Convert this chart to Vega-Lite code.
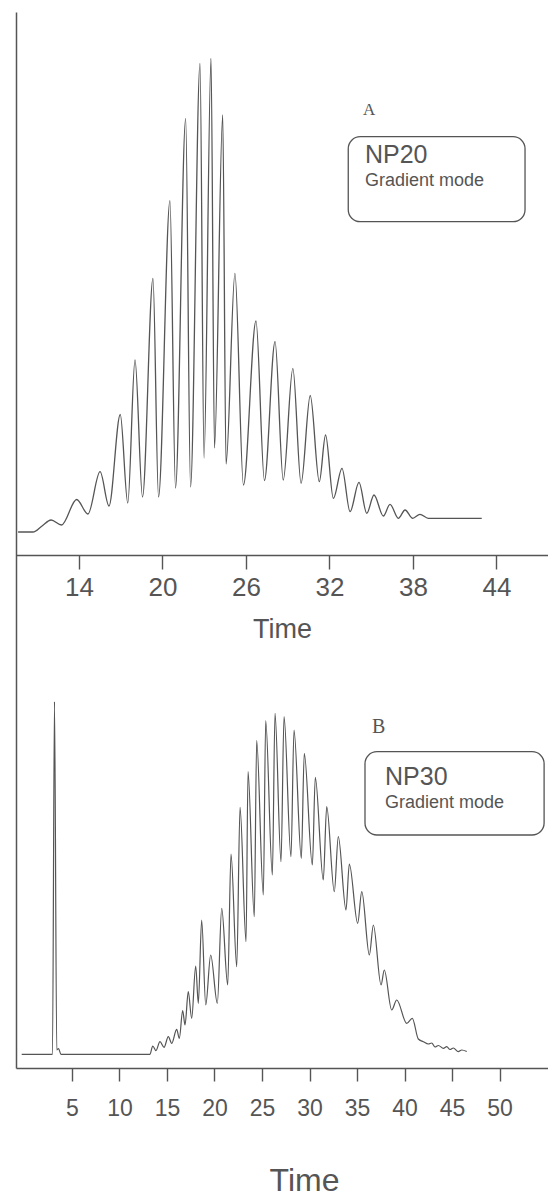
{
  "$schema": "https://vega.github.io/schema/vega-lite/v6.json",
  "width": 532,
  "height": 1056,
  "autosize": {"type": "none"},
  "padding": {"left": 16, "top": 12, "right": 0, "bottom": 133},
  "background": "white",
  "config": {
    "view": {"stroke": null},
    "font": "Liberation Sans",
    "axis": {"grid": false, "labelFont": "Liberation Sans", "titleFont": "Liberation Sans", "domainColor": "#555555", "tickColor": "#555555", "labelColor": "#555555", "titleColor": "#555555", "titleFontWeight": "normal", "domainWidth": 1.5, "tickWidth": 1.4}
  },
  "datasets": {
    "np20": [
      {"t": 9.63, "v": 0}, {"t": 10.70, "v": 0}, {"t": 11.35, "v": 6}, {"t": 12.00, "v": 12}, {"t": 12.75, "v": 7},
      {"t": 13.84, "v": 32.5}, {"t": 14.65, "v": 18}, {"t": 15.52, "v": 60.3}, {"t": 16.16, "v": 26}, {"t": 16.97, "v": 117.5},
      {"t": 17.51, "v": 29}, {"t": 18.03, "v": 172}, {"t": 18.57, "v": 35}, {"t": 19.32, "v": 253.7}, {"t": 19.72, "v": 35},
      {"t": 20.54, "v": 331.3}, {"t": 20.94, "v": 44}, {"t": 21.67, "v": 413.7}, {"t": 22.02, "v": 45}, {"t": 22.70, "v": 468.7},
      {"t": 22.99, "v": 74}, {"t": 23.49, "v": 473.7}, {"t": 23.74, "v": 84}, {"t": 24.33, "v": 417}, {"t": 24.57, "v": 68},
      {"t": 25.21, "v": 258.7}, {"t": 25.82, "v": 47}, {"t": 26.72, "v": 211}, {"t": 27.33, "v": 51.5}, {"t": 28.09, "v": 190.3},
      {"t": 28.68, "v": 52}, {"t": 29.37, "v": 163.7}, {"t": 29.96, "v": 48.7}, {"t": 30.62, "v": 136.5}, {"t": 31.27, "v": 50.3},
      {"t": 31.72, "v": 97}, {"t": 32.28, "v": 33.7}, {"t": 32.90, "v": 63.7}, {"t": 33.48, "v": 20.3}, {"t": 34.12, "v": 49.7},
      {"t": 34.68, "v": 18.7}, {"t": 35.20, "v": 37}, {"t": 35.87, "v": 16}, {"t": 36.35, "v": 27.7}, {"t": 36.95, "v": 13.7},
      {"t": 37.43, "v": 22}, {"t": 37.98, "v": 13.7}, {"t": 38.50, "v": 17.7}, {"t": 39.10, "v": 13.7}, {"t": 42.94, "v": 13.7}
    ],
    "np30": [
      {"t": -0.29, "v": 0}, {"t": 2.95, "v": 0}, {"t": 3.16, "v": 352.6}, {"t": 3.40, "v": 4.3}, {"t": 3.58, "v": 5.8},
      {"t": 3.84, "v": 0}, {"t": 13.21, "v": 0}, {"t": 13.50, "v": 8.3}, {"t": 13.84, "v": 3.6}, {"t": 14.26, "v": 12.6},
      {"t": 14.69, "v": 7}, {"t": 15.14, "v": 17.6}, {"t": 15.50, "v": 11}, {"t": 16.02, "v": 25}, {"t": 16.30, "v": 16},
      {"t": 16.65, "v": 43.6}, {"t": 16.90, "v": 29.3}, {"t": 17.24, "v": 62.6}, {"t": 17.60, "v": 36}, {"t": 18.02, "v": 88.3},
      {"t": 18.30, "v": 51}, {"t": 18.65, "v": 134.3}, {"t": 19.08, "v": 49.3}, {"t": 19.60, "v": 99.3}, {"t": 20.30, "v": 51},
      {"t": 20.76, "v": 146}, {"t": 21.39, "v": 69.3}, {"t": 21.74, "v": 200.3}, {"t": 22.34, "v": 87.6}, {"t": 22.69, "v": 247},
      {"t": 23.32, "v": 112.6}, {"t": 23.53, "v": 282.6}, {"t": 24.19, "v": 137.6}, {"t": 24.44, "v": 313.6}, {"t": 25.14, "v": 159.3},
      {"t": 25.39, "v": 333.6}, {"t": 26.09, "v": 179.3}, {"t": 26.37, "v": 341}, {"t": 27.00, "v": 192.6}, {"t": 27.32, "v": 337.6},
      {"t": 28.05, "v": 197.6}, {"t": 28.37, "v": 324.3}, {"t": 29.14, "v": 196}, {"t": 29.45, "v": 301}, {"t": 30.30, "v": 189.3},
      {"t": 30.61, "v": 277}, {"t": 31.45, "v": 174.3}, {"t": 31.81, "v": 247.6}, {"t": 32.61, "v": 162.6}, {"t": 33.03, "v": 217.6},
      {"t": 33.84, "v": 144.3}, {"t": 34.19, "v": 190.3}, {"t": 35.07, "v": 131}, {"t": 35.50, "v": 162.6}, {"t": 36.30, "v": 99.3},
      {"t": 36.72, "v": 129.3}, {"t": 37.53, "v": 69.3}, {"t": 37.87, "v": 84.3}, {"t": 38.65, "v": 44.3}, {"t": 39.18, "v": 54.3},
      {"t": 40.23, "v": 31}, {"t": 40.82, "v": 36}, {"t": 41.45, "v": 15.3}, {"t": 41.98, "v": 12.6}, {"t": 42.51, "v": 10.3},
      {"t": 42.86, "v": 11.3}, {"t": 43.21, "v": 7.3}, {"t": 43.56, "v": 8.8}, {"t": 44.09, "v": 6}, {"t": 44.44, "v": 7.6},
      {"t": 44.79, "v": 4.8}, {"t": 45.14, "v": 6.3}, {"t": 45.66, "v": 2.6}, {"t": 46.02, "v": 4.3}, {"t": 46.55, "v": 2.8}
    ]
  },
  "layer": [
    {
      "encoding": {
        "x": {"type": "quantitative", "scale": {"domain": [9.48, 47.7], "nice": false, "zero": false}},
        "y": {"type": "quantitative", "scale": {"domain": [-23, 520], "range": [543, 0], "nice": false, "zero": false}}
      },
      "layer": [
        {
          "data": {"name": "np20"},
          "mark": {"type": "line", "interpolate": "monotone", "color": "#555555", "strokeWidth": 1.3},
          "encoding": {
            "x": {"field": "t", "type": "quantitative", "axis": {"orient": "bottom", "offset": -513, "values": [14, 20, 26, 32, 38, 44], "tickSize": 14, "labelFontSize": 26, "labelPadding": 5, "labelFlush": false, "labelOverlap": false, "title": "Time", "titleFontSize": 27, "titlePadding": 16}},
            "y": {"field": "v", "type": "quantitative", "axis": null}
          }
        },
        {
          "data": {"values": [{}]},
          "mark": {"type": "rect", "filled": false, "stroke": "#555555", "strokeWidth": 1.3, "cornerRadius": 12},
          "encoding": {"x": {"datum": 33.35}, "x2": {"datum": 46.05}, "y": {"datum": 395.3}, "y2": {"datum": 310.3}}
        },
        {
          "data": {"values": [{}]},
          "mark": {"type": "text", "font": "Liberation Serif", "fontSize": 17, "align": "left", "baseline": "alphabetic", "color": "#555555"},
          "encoding": {"x": {"datum": 34.41}, "y": {"datum": 417}, "text": {"value": "A"}}
        },
        {
          "data": {"values": [{}]},
          "mark": {"type": "text", "font": "Liberation Sans", "fontSize": 25, "align": "left", "baseline": "alphabetic", "color": "#555555"},
          "encoding": {"x": {"datum": 34.55}, "y": {"datum": 369}, "text": {"value": "NP20"}}
        },
        {
          "data": {"values": [{}]},
          "mark": {"type": "text", "font": "Liberation Sans", "fontSize": 18, "align": "left", "baseline": "alphabetic", "color": "#555555"},
          "encoding": {"x": {"datum": 34.55}, "y": {"datum": 346}, "text": {"value": "Gradient mode"}}
        }
      ]
    },
    {
      "encoding": {
        "x": {"type": "quantitative", "scale": {"domain": [-0.89, 55.1], "nice": false, "zero": false}},
        "y": {"type": "quantitative", "scale": {"domain": [-13.7, 1042.3], "nice": false, "zero": false}}
      },
      "layer": [
        {
          "data": {"name": "np30"},
          "mark": {"type": "line", "interpolate": "monotone", "color": "#555555", "strokeWidth": 1.2},
          "encoding": {
            "x": {"field": "t", "type": "quantitative", "axis": {"orient": "bottom", "offset": 0, "values": [5, 10, 15, 20, 25, 30, 35, 40, 45, 50], "tickSize": 13, "labelFontSize": 23, "labelPadding": 16, "labelFlush": false, "labelOverlap": false, "title": "Time", "titleFontSize": 32, "titlePadding": 45, "titleX": 288, "titleAlign": "center"}},
            "y": {"field": "v", "type": "quantitative", "axis": {"orient": "left", "domain": true, "ticks": false, "labels": false, "title": null}}
          }
        },
        {
          "data": {"values": [{}]},
          "mark": {"type": "rect", "filled": false, "stroke": "#555555", "strokeWidth": 1.3, "cornerRadius": 12},
          "encoding": {"x": {"datum": 35.84}, "x2": {"datum": 54.69}, "y": {"datum": 302.6}, "y2": {"datum": 219.3}}
        },
        {
          "data": {"values": [{}]},
          "mark": {"type": "text", "font": "Liberation Serif", "fontSize": 20, "align": "left", "baseline": "alphabetic", "color": "#555555"},
          "encoding": {"x": {"datum": 36.58}, "y": {"datum": 321.3}, "text": {"value": "B"}}
        },
        {
          "data": {"values": [{}]},
          "mark": {"type": "text", "font": "Liberation Sans", "fontSize": 25, "align": "left", "baseline": "alphabetic", "color": "#555555"},
          "encoding": {"x": {"datum": 37.95}, "y": {"datum": 269.3}, "text": {"value": "NP30"}}
        },
        {
          "data": {"values": [{}]},
          "mark": {"type": "text", "font": "Liberation Sans", "fontSize": 18, "align": "left", "baseline": "alphabetic", "color": "#555555"},
          "encoding": {"x": {"datum": 37.95}, "y": {"datum": 246.3}, "text": {"value": "Gradient mode"}}
        }
      ]
    }
  ],
  "resolve": {"scale": {"x": "independent", "y": "independent"}, "axis": {"x": "independent", "y": "independent"}}
}
